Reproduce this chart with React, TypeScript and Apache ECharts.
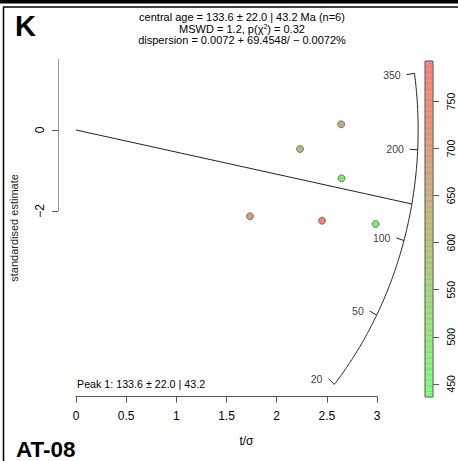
import React, { useEffect, useRef } from "react";
import * as echarts from "echarts";

// ---- data ----
const tSigma = [2.643, 2.233, 2.646, 1.734, 2.452, 2.987];
const standardisedEstimate = [0.141, -0.47, -1.195, -2.136, -2.245, -2.327];
const colourValue = [632, 543, 472, 686, 793, 436];
const arcTickAges = [20, 50, 100, 200, 350];
const arcAgeRange = [20, 350];
const centralAge = 133.6;
const colourBarTicks = [450, 500, 550, 600, 650, 700, 750];
const colourRange = [436, 793];
const yTicks = [-2, 0];
const titleLines = [
  "central age = 133.6 ± 22.0 | 43.2 Ma (n=6)",
  "MSWD = 1.2, p(χ{sup|2}) = 0.32",
  "dispersion = 0.0072 + 69.4548/ − 0.0072%",
];
const peakText = "Peak 1: 133.6 ± 22.0 | 43.2";

// ---- radial scale geometry (reference log-age and arc radius) ----
const Z0 = 5.442;
const RADIUS = 3.41;
const ASPECT = 0.355;
function arcPoint(age: number, f = 1): number[] {
  const s = Math.log(age) - Z0;
  const x = RADIUS / Math.sqrt(1 + ASPECT * ASPECT * s * s);
  return [x * f, s * x * f];
}

const FONT = "Liberation Sans, Arial, Helvetica, sans-serif";
const barLow = [128, 255, 128];
const barHigh = [255, 128, 128];
const ptLow = [92, 224, 92];
const ptHigh = [240, 92, 92];
function mix(a: number[], b: number[], t: number, k = 1): string {
  const c = a.map((v, i) => Math.round((v + (b[i] - v) * t) * k));
  return `rgb(${c[0]},${c[1]},${c[2]})`;
}

const N_BANDS = 60;
const PX_PER_Y = 40.4;
const Y_MAX = 1.75;
const Y_MIN = -6.6;
const ORIGIN_Y = 130;

export default function App() {
  const ref = useRef<HTMLDivElement>(null);
  useEffect(() => {
    if (!ref.current) return;
    const chart = echarts.init(ref.current, undefined, { renderer: "svg" });

    const arcData: number[][] = [];
    const nArc = 160;
    for (let i = 0; i <= nArc; i++) {
      const age = arcAgeRange[0] * Math.pow(arcAgeRange[1] / arcAgeRange[0], i / nArc);
      arcData.push(arcPoint(age));
    }
    const central = arcPoint(centralAge);
    const bandIdx = Array.from({ length: N_BANDS }, (_, i) => [i]);
    const gridTop = ORIGIN_Y - Y_MAX * PX_PER_Y;

    const option: any = {
      animation: false,
      textStyle: { fontFamily: FONT },
      grid: [
        { left: 72, width: 305, top: gridTop, height: (Y_MAX - Y_MIN) * PX_PER_Y },
        { left: 58, width: 10, top: gridTop, height: (Y_MAX + 2) * PX_PER_Y },
        { left: 425, width: 8, top: 61, height: 336 },
      ],
      xAxis: [
        {
          gridIndex: 0,
          type: "value",
          min: 0,
          max: 3,
          interval: 0.5,
          axisLine: { onZero: false, lineStyle: { color: "#555", width: 1 } },
          axisTick: { length: 6, lineStyle: { color: "#555" } },
          axisLabel: { fontSize: 12, color: "#000", margin: 13, fontFamily: FONT },
          splitLine: { show: false },
          name: "t/σ",
          nameLocation: "middle",
          nameGap: 38,
          nameTextStyle: { fontSize: 12, color: "#000", padding: [0, 0, 0, 40], fontFamily: FONT },
        },
        { gridIndex: 1, type: "value", min: 0, max: 1, show: false },
        { gridIndex: 2, type: "value", min: 0, max: 1, show: false },
      ],
      yAxis: [
        {
          gridIndex: 0,
          type: "value",
          min: Y_MIN,
          max: Y_MAX,
          axisLine: { show: false, onZero: false },
          axisTick: { show: false },
          axisLabel: { show: false },
          splitLine: { show: false },
          name: "standardised estimate",
          nameLocation: "middle",
          nameGap: 57,
          nameTextStyle: { fontSize: 11, color: "#222", fontFamily: FONT },
        },
        {
          gridIndex: 1,
          type: "value",
          min: -2,
          max: Y_MAX,
          axisLine: { show: true, onZero: false, lineStyle: { color: "#999", width: 1 } },
          axisTick: { show: true, length: 6, customValues: yTicks, lineStyle: { color: "#555" } },
          axisLabel: {
            customValues: yTicks,
            rotate: 90,
            fontSize: 12,
            color: "#000",
            margin: 12,
            fontFamily: FONT,
            formatter: (v: number) => String(v).replace("-", "\u2212"),
          },
          splitLine: { show: false },
        },
        {
          gridIndex: 2,
          type: "value",
          position: "right",
          min: colourRange[0],
          max: colourRange[1],
          axisLine: { show: false, onZero: false },
          axisTick: { show: true, length: 6, customValues: colourBarTicks, lineStyle: { color: "#555" } },
          axisLabel: {
            customValues: colourBarTicks,
            rotate: 90,
            fontSize: 10.5,
            color: "#000",
            margin: 12,
            fontFamily: FONT,
          },
          splitLine: { show: false },
        },
      ],
      series: [
        {
          name: "arc",
          type: "custom",
          xAxisIndex: 0,
          yAxisIndex: 0,
          clip: false,
          data: [[0]],
          silent: true,
          renderItem: (_p: any, api: any) => ({
            type: "polyline",
            shape: { points: arcData.map((p) => api.coord(p)) },
            style: { stroke: "#222", lineWidth: 1, fill: "none" },
          }),
        },
        {
          name: "central line",
          type: "custom",
          xAxisIndex: 0,
          yAxisIndex: 0,
          clip: false,
          data: [[0, 0]],
          silent: true,
          renderItem: (_p: any, api: any) => {
            const a = api.coord([0, 0]);
            const b = api.coord(central);
            return {
              type: "line",
              shape: { x1: a[0], y1: a[1], x2: b[0], y2: b[1] },
              style: { stroke: "#222", lineWidth: 1 },
            };
          },
        },
        {
          name: "arc ticks",
          type: "custom",
          xAxisIndex: 0,
          yAxisIndex: 0,
          clip: false,
          data: arcTickAges.map((a) => [a]),
          renderItem: (_p: any, api: any) => {
            const a = api.value(0);
            const o = api.coord(arcPoint(a));
            const n = api.coord(arcPoint(a, 0.977));
            return {
              type: "line",
              shape: { x1: n[0], y1: n[1], x2: o[0], y2: o[1] },
              style: { stroke: "#222", lineWidth: 1 },
            };
          },
        },
        {
          name: "arc labels",
          type: "scatter",
          xAxisIndex: 0,
          yAxisIndex: 0,
          clip: false,
          symbolSize: 0,
          data: arcTickAges.map((a) => ({ value: arcPoint(a, 0.977), name: String(a) })),
          label: {
            show: true,
            position: "left",
            distance: 6,
            formatter: "{b}",
            fontSize: 10.5,
            color: "#000",
            fontFamily: FONT,
          },
          silent: true,
        },
        {
          name: "samples",
          type: "scatter",
          xAxisIndex: 0,
          yAxisIndex: 0,
          clip: false,
          symbolSize: 7,
          data: tSigma.map((x, i) => ({
            value: [x, standardisedEstimate[i]],
            itemStyle: {
              color: mix(ptLow, ptHigh, (colourValue[i] - colourRange[0]) / (colourRange[1] - colourRange[0])),
            },
          })),
          itemStyle: { borderColor: "#444", borderWidth: 0.8 },
          z: 5,
        },
        {
          name: "colour bar",
          type: "custom",
          xAxisIndex: 2,
          yAxisIndex: 2,
          data: bandIdx,
          renderItem: (_p: any, api: any) => {
            const i = api.value(0);
            const step = (colourRange[1] - colourRange[0]) / N_BANDS;
            const lo = colourRange[0] + step * i;
            const p1 = api.coord([0, lo + step]);
            const p2 = api.coord([1, lo]);
            const t = (i + 0.5) / N_BANDS;
            return {
              type: "rect",
              shape: { x: p1[0], y: p1[1], width: p2[0] - p1[0], height: p2[1] - p1[1] },
              style: { fill: mix(barLow, barHigh, t), stroke: mix(barLow, barHigh, t, 0.85), lineWidth: 0.5 },
            };
          },
        },
        {
          name: "colour bar frame",
          type: "custom",
          xAxisIndex: 2,
          yAxisIndex: 2,
          data: [[0]],
          z: 4,
          renderItem: (_p: any, api: any) => {
            const p1 = api.coord([0, colourRange[1]]);
            const p2 = api.coord([1, colourRange[0]]);
            return {
              type: "rect",
              shape: { x: p1[0], y: p1[1], width: p2[0] - p1[0], height: p2[1] - p1[1] },
              style: { fill: "none", stroke: "#666", lineWidth: 1 },
            };
          },
        },
      ],
      graphic: [
        { type: "rect", shape: { x: 0, y: 0, width: 458, height: 3.5 }, style: { fill: "#000" } },
        { type: "line", shape: { x1: 3, y1: 7, x2: 458, y2: 7 }, style: { stroke: "#000", lineWidth: 1.5 } },
        { type: "line", shape: { x1: 3.5, y1: 7, x2: 3.5, y2: 461 }, style: { stroke: "#000", lineWidth: 1.5 } },
        {
          type: "text",
          x: 15,
          y: 26,
          style: { text: "K", fontSize: 29, fontWeight: "bold", fontFamily: FONT, fill: "#000", verticalAlign: "middle" },
        },
        {
          type: "text",
          x: 16,
          y: 449,
          style: { text: "AT-08", fontSize: 22.5, fontWeight: "bold", fontFamily: FONT, fill: "#000", verticalAlign: "middle" },
        },
        ...titleLines.map((t, i) => ({
          type: "text",
          x: 242,
          y: 17 + i * 11.5,
          style: {
            text: t,
            fontSize: 11,
            fontFamily: FONT,
            fill: "#000",
            align: "center",
            verticalAlign: "middle",
            rich: { sup: { fontSize: 7, verticalAlign: "top", fontFamily: FONT, fill: "#000" } },
          },
        })),
        {
          type: "text",
          x: 77,
          y: 384,
          style: { text: peakText, fontSize: 10.7, fontFamily: FONT, fill: "#000", verticalAlign: "middle" },
        },
      ],
    };
    chart.setOption(option);
    return () => chart.dispose();
  }, []);
  return (
    <div
      ref={ref}
      style={{ position: "fixed", left: 0, top: 0, width: 458, height: 461, background: "#fff" }}
    />
  );
}
